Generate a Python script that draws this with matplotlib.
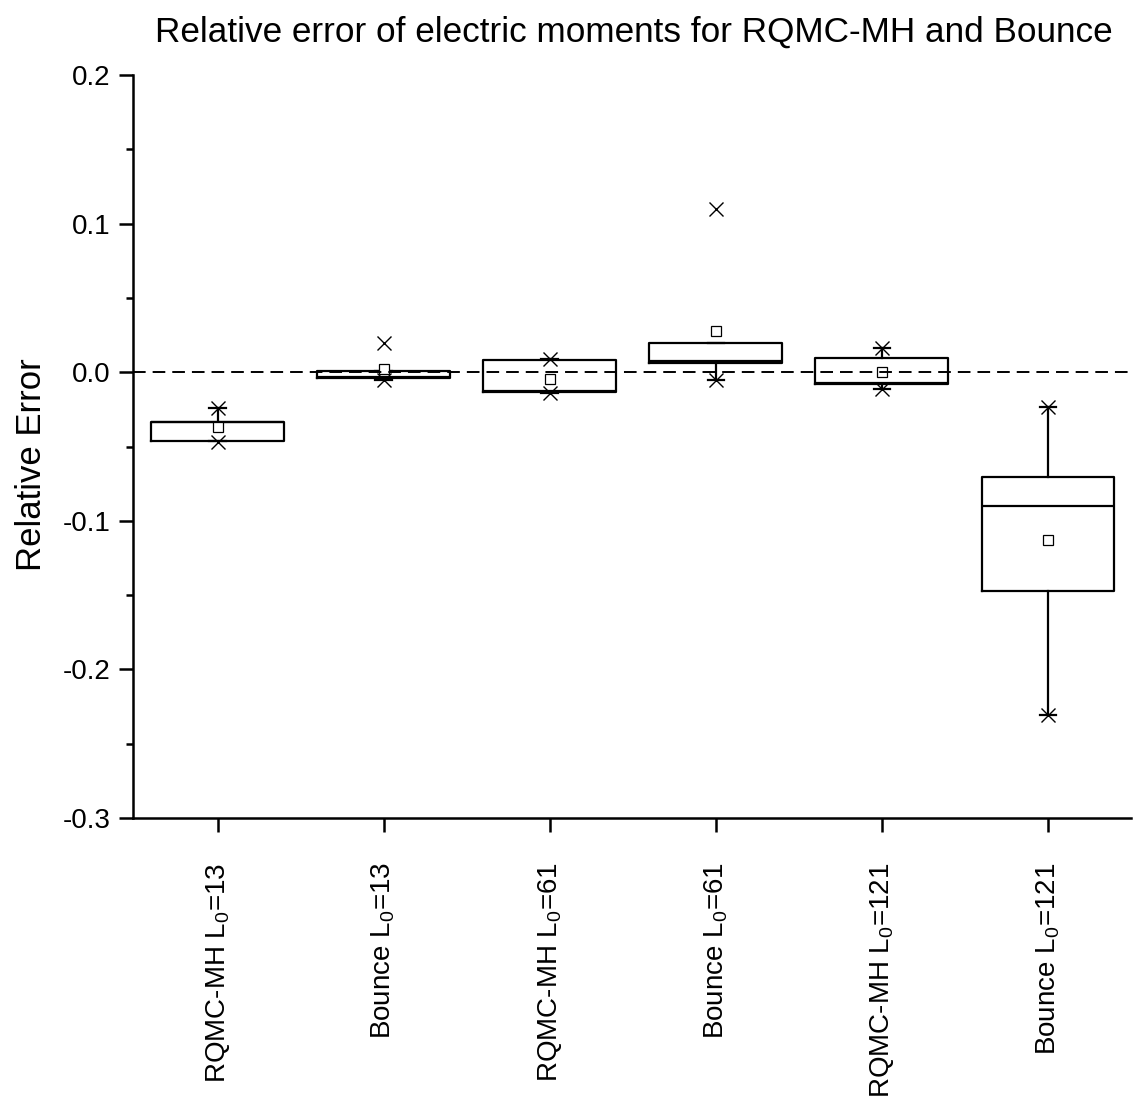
import matplotlib
matplotlib.use('Agg')
import matplotlib.pyplot as plt
from matplotlib.ticker import MultipleLocator, FixedLocator

plt.rcParams['font.family'] = ['Liberation Sans', 'DejaVu Sans']
plt.rcParams['mathtext.fontset'] = 'custom'
plt.rcParams['mathtext.rm'] = 'Liberation Sans'
plt.rcParams['mathtext.it'] = 'Liberation Sans:italic'
plt.rcParams['axes.unicode_minus'] = False

# Box statistics
labels = ['RQMC-MH L$_0$=13', 'Bounce L$_0$=13', 'RQMC-MH L$_0$=61',
          'Bounce L$_0$=61', 'RQMC-MH L$_0$=121', 'Bounce L$_0$=121']
q1 = [-0.0464, -0.0038, -0.0132, 0.0063, -0.0079, -0.1474]
med = [-0.0334, -0.0032, -0.0127, 0.0074, -0.0073, -0.0900]
q3 = [-0.0334, 0.0009, 0.0081, 0.0197, 0.0096, -0.0707]
whislo = [-0.0464, -0.0054, -0.0143, -0.0054, -0.0114, -0.2304]
whishi = [-0.0238, 0.0009, 0.0092, 0.0197, 0.0166, -0.0233]
means = [-0.0368, 0.0020, -0.0043, 0.0276, -0.0002, -0.1126]
# 1% / 99% markers
p_lo = [-0.0470, -0.0054, -0.0143, -0.0054, -0.0114, -0.2304]
p_hi = [-0.0238, 0.0197, 0.0092, 0.1097, 0.0166, -0.0233]

positions = list(range(1, len(labels) + 1))

fig = plt.figure(figsize=(11.33, 11.08), dpi=100)
ax = fig.add_axes([133 / 1133, 1 - 818 / 1108, 998 / 1133, 743 / 1108])

stats = []
for i in range(len(labels)):
    stats.append(dict(q1=q1[i], med=med[i], q3=q3[i], whislo=whislo[i],
                      whishi=whishi[i], mean=means[i], fliers=[]))

lw = 1.6
ax.bxp(stats, positions=positions, widths=0.8, capwidths=0.1,
       showmeans=True, showfliers=False, patch_artist=False,
       boxprops=dict(color='black', linewidth=lw),
       medianprops=dict(color='black', linewidth=lw),
       whiskerprops=dict(color='black', linewidth=lw),
       capprops=dict(color='black', linewidth=lw),
       meanprops=dict(marker='s', markerfacecolor='white',
                      markeredgecolor='black', markersize=6.5,
                      markeredgewidth=0.9))

ax.plot(positions, p_lo, linestyle='none', marker='x', color='black',
        markersize=10, markeredgewidth=1.0, zorder=4)
ax.plot(positions, p_hi, linestyle='none', marker='x', color='black',
        markersize=10, markeredgewidth=1.0, zorder=4)

ax.axhline(0, color='black', linewidth=1.4, linestyle=(0, (6.5, 3.6)), zorder=5)

ax.set_xlim(0.49, 6.5)
ax.set_ylim(-0.3, 0.2)
ax.yaxis.set_major_locator(MultipleLocator(0.1))
ax.yaxis.set_minor_locator(MultipleLocator(0.05))
ax.yaxis.set_major_formatter(plt.FuncFormatter(lambda v, p: f'{v:.1f}'))
ax.xaxis.set_major_locator(FixedLocator(positions))
ax.set_xticklabels(labels, rotation=90, va='top', ha='center')

for s in ['top', 'right']:
    ax.spines[s].set_visible(False)
for s in ['left', 'bottom']:
    ax.spines[s].set_linewidth(1.8)

ax.tick_params(axis='both', which='major', direction='out', length=10,
               width=1.8, labelsize=20)
ax.tick_params(axis='y', which='minor', direction='out', length=5, width=1.8)
ax.tick_params(axis='y', which='major', pad=6)
ax.tick_params(axis='x', which='major', pad=22)

fig.text(32 / 1133, 1 - 465 / 1108, 'Relative Error', rotation=90,
         ha='center', va='center', fontsize=25)
fig.text(634 / 1133, 1 - 32 / 1108,
         'Relative error of electric moments for RQMC-MH and Bounce',
         ha='center', va='center', fontsize=25.3)

fig.savefig('out.png', dpi=100)
